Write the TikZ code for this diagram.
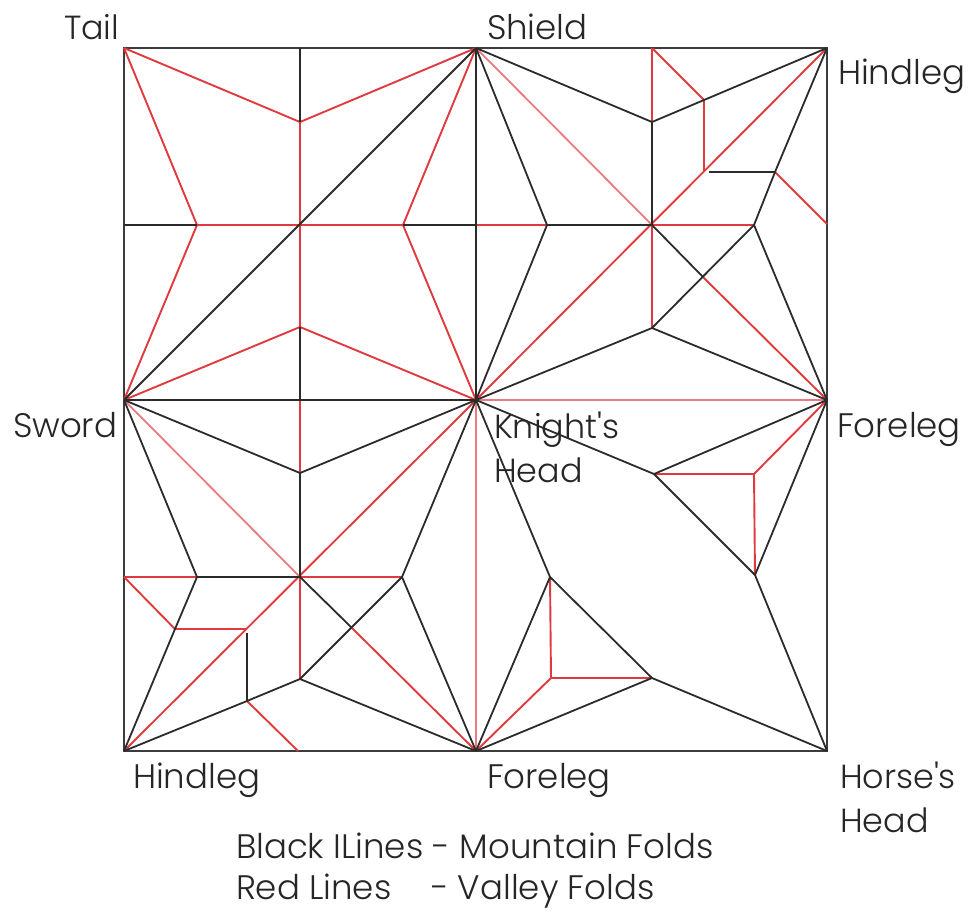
\documentclass[tikz,border=0pt]{standalone}
\usepackage{fontspec}
\setmainfont{Poppins}[UprightFont=* Light,Ligatures=TeXOff]
\definecolor{mtn}{HTML}{2B2B2B}
\definecolor{vly}{HTML}{E03A3E}
\definecolor{vlypale}{HTML}{EC7A7E}
\definecolor{edgegray}{HTML}{3C3C3C}
\definecolor{txt}{HTML}{262626}
\tikzset{
  mountain/.style={draw=mtn,line width=1.8pt,line join=round},
  valley/.style={draw=vly,line width=1.9pt,line join=round},
  valleypale/.style={draw=vlypale,line width=1.8pt},
  border/.style={draw=edgegray,line width=2pt},
  lab/.style={anchor=base west,inner sep=0pt,outer sep=0pt,text=txt,font=\fontsize{34}{34}\selectfont},
  labs/.style={lab,font=\fontsize{33.4}{34}\selectfont},
}
\begin{document}
\begin{tikzpicture}[x=1pt,y=-1pt]
\useasboundingbox (0,0) rectangle (971,911);
% corners and centre
\coordinate (TL) at (124,48); \coordinate (T) at (476,48); \coordinate (TR) at (827,48);
\coordinate (L) at (124,400); \coordinate (C) at (476,400); \coordinate (R) at (827,400);
\coordinate (BL) at (124,751); \coordinate (B) at (476,751); \coordinate (BR) at (827,751);
% top-left quadrant
\coordinate (a0) at (300,225); \coordinate (aT) at (300,122); \coordinate (aL) at (197,225);
\coordinate (aR) at (403,225); \coordinate (aB) at (300,327);
\coordinate (aET) at (300,48); \coordinate (aEL) at (124,225); \coordinate (aER) at (476,225); \coordinate (aEB) at (300,400);
% top-right quadrant
\coordinate (b0) at (652,225); \coordinate (bT) at (652,122); \coordinate (bL) at (547,225);
\coordinate (bR) at (754,225); \coordinate (bB) at (652,328); \coordinate (bET) at (652,48);
\coordinate (b1) at (704,100); \coordinate (b2) at (704,171); \coordinate (b3) at (775,172);
\coordinate (b4) at (827,224); \coordinate (bX) at (703,277); \coordinate (b2a) at (709,172);
% bottom-left quadrant
\coordinate (c0) at (300,577); \coordinate (cT) at (300,473); \coordinate (cL) at (197,577);
\coordinate (cR) at (402,577); \coordinate (cB) at (300,679); \coordinate (cEL) at (124,577);
\coordinate (c1) at (175,629); \coordinate (c2) at (246,629); \coordinate (c3) at (247,701);
\coordinate (c4) at (298,751); \coordinate (cX) at (352,628); \coordinate (c2a) at (247,633);
% bottom-right quadrant
\coordinate (d1) at (654,474); \coordinate (d2) at (754,474); \coordinate (d3) at (755,575);
\coordinate (d4) at (550,577); \coordinate (d5) at (551,678); \coordinate (d6) at (652,678);

% outer square
\draw[border] (TL) -- (TR) -- (BR) -- (BL) -- cycle;

% valley folds
\draw[valley] (TL) -- (aT) -- (T);
\draw[valley] (TL) -- (aL) -- (L);
\draw[valley] (T) -- (aR) -- (C);
\draw[valley] (L) -- (aB) -- (C);
\draw[valley] (aL) -- (aR);
\draw[valley] (aT) -- (aB);

\draw[valley] (bET) -- (bT);
\draw[valley] (bET) -- (b1) -- (b2);
\draw[valley] (aER) -- (bL);
\draw[valley] (b0) -- (bR);
\draw[valley] (C) -- (TR);
\draw[valley] (b0) -- (bB);
\draw[valley] (bX) -- (R);
\draw[valley] (b3) -- (b4);
\draw[valleypale] (T) -- (b0);
\draw[valleypale] (C) -- (R);

\draw[valley] (aEB) -- (cT);
\draw[valley] (cEL) -- (cL);
\draw[valley] (cEL) -- (c1) -- (c2);
\draw[valley] (BL) -- (C);
\draw[valley] (c0) -- (cR);
\draw[valley] (c0) -- (cB);
\draw[valley] (cX) -- (B);
\draw[valley] (c3) -- (c4);
\draw[valleypale] (L) -- (c0);
\draw[valleypale] (C) -- (B);

\draw[valley] (d1) -- (d2) -- (d3);
\draw[valley] (d2) -- (R);
\draw[valley] (d4) -- (d5) -- (d6);
\draw[valley] (d5) -- (B);

% mountain folds
\draw[mountain] (L) -- (T);
\draw[mountain] (aEL) -- (aL);
\draw[mountain] (aET) -- (aT);
\draw[mountain] (aR) -- (aER);
\draw[mountain] (aB) -- (aEB);
\draw[mountain] (T) -- (C);
\draw[mountain] (L) -- (C);

\draw[mountain] (T) -- (bT) -- (b1) -- (TR);
\draw[mountain] (T) -- (bL) -- (C);
\draw[mountain] (bL) -- (b0);
\draw[mountain] (bT) -- (b0);
\draw[mountain] (b0) -- (bX);
\draw[mountain] (bR) -- (bB);
\draw[mountain] (C) -- (bB) -- (R);
\draw[mountain] (TR) -- (b3) -- (bR) -- (R);
\draw[mountain] (b2a) -- (b3);

\draw[mountain] (L) -- (cT) -- (C);
\draw[mountain] (L) -- (cL) -- (c1) -- (BL);
\draw[mountain] (cL) -- (c0);
\draw[mountain] (cT) -- (c0);
\draw[mountain] (c0) -- (cX);
\draw[mountain] (cR) -- (cB);
\draw[mountain] (C) -- (cR) -- (B);
\draw[mountain] (BL) -- (c3) -- (cB) -- (B);
\draw[mountain] (c2a) -- (c3);

\draw[mountain] (C) -- (d1) -- (R);
\draw[mountain] (d1) -- (d3);
\draw[mountain] (R) -- (d3) -- (BR);
\draw[mountain] (C) -- (d4) -- (B);
\draw[mountain] (d4) -- (d6);
\draw[mountain] (B) -- (d6) -- (BR);

% labels
\node[labs] (nTail) at (64,39) {Tail};
\node[lab] (nShield) at (487,39) {Shield};
\node[lab] (nHindR) at (838,84) {Hindleg};
\node[lab] (nSword) at (13,437) {Sword};
\node[labs] (nKnight) at (494,438) {Knight's};
\node[labs] (nKHead) at (494,482) {Head};
\node[lab] (nForeR) at (837,437) {Foreleg};
\node[lab] (nHindB) at (133,788) {Hindleg};
\node[lab] (nForeB) at (487,788) {Foreleg};
\node[labs] (nHorse) at (840,788) {Horse's};
\node[labs] (nHHead) at (840,832) {Head};
\node[lab] (nKey1) at (236,858) {Black ILines - Mountain Folds};
\node[lab] (nKey2) at (236,899) {Red Lines};
\node[lab] (nKey3) at (431,899) {- Valley Folds};
\end{tikzpicture}
\end{document}
